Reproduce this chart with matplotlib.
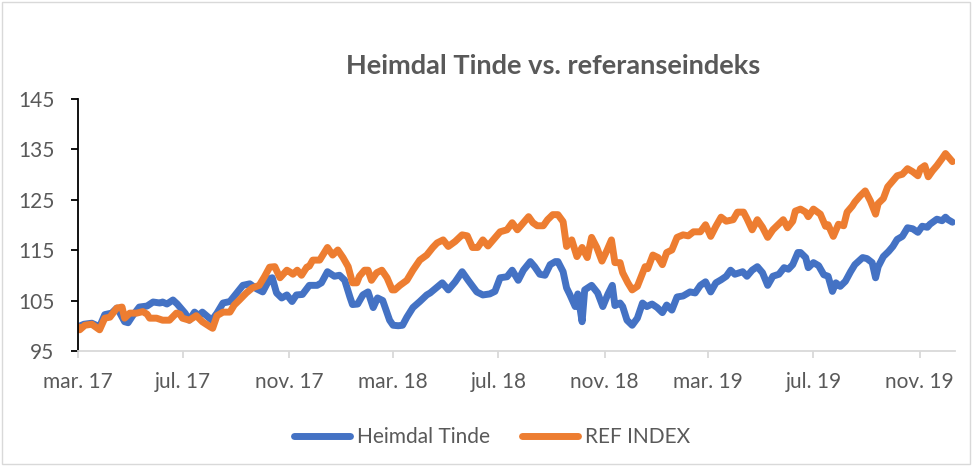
import matplotlib
matplotlib.use('Agg')
import matplotlib.pyplot as plt
from matplotlib.patches import Rectangle
import pandas as pd

# values (indexed, start = 100)
heimdal_dates = [
    '2017-03-01', '2017-03-08', '2017-03-17', '2017-03-26', '2017-04-01', '2017-04-09', '2017-04-15',
    '2017-04-18', '2017-04-24', '2017-04-28', '2017-05-03', '2017-05-11', '2017-05-20', '2017-05-27',
    '2017-06-04', '2017-06-07', '2017-06-12', '2017-06-19', '2017-06-24', '2017-07-03', '2017-07-08',
    '2017-07-14', '2017-07-19', '2017-07-23', '2017-08-03', '2017-08-09', '2017-08-16', '2017-08-24',
    '2017-09-01', '2017-09-08', '2017-09-16', '2017-09-24', '2017-10-01', '2017-10-09', '2017-10-12',
    '2017-10-17', '2017-10-23', '2017-10-29', '2017-11-04', '2017-11-09', '2017-11-16', '2017-11-24',
    '2017-12-03', '2017-12-08', '2017-12-15', '2017-12-23', '2017-12-29', '2018-01-04', '2018-01-10',
    '2018-01-13', '2018-01-19', '2018-01-25', '2018-01-31', '2018-02-06', '2018-02-11', '2018-02-17',
    '2018-02-25', '2018-03-01', '2018-03-07', '2018-03-12', '2018-03-17', '2018-03-24', '2018-04-01',
    '2018-04-09', '2018-04-13', '2018-04-20', '2018-04-27', '2018-05-04', '2018-05-12', '2018-05-20',
    '2018-05-27', '2018-06-06', '2018-06-13', '2018-06-21', '2018-06-27', '2018-07-03', '2018-07-11',
    '2018-07-17', '2018-07-24', '2018-07-30', '2018-08-07', '2018-08-12', '2018-08-18', '2018-08-24',
    '2018-08-30', '2018-09-05', '2018-09-08', '2018-09-14', '2018-09-18', '2018-09-22', '2018-09-28',
    '2018-10-01', '2018-10-06', '2018-10-09', '2018-10-17', '2018-10-24', '2018-10-30', '2018-11-05',
    '2018-11-10', '2018-11-13', '2018-11-19', '2018-11-22', '2018-11-27', '2018-12-03', '2018-12-09',
    '2018-12-15', '2018-12-20', '2018-12-26', '2019-01-01', '2019-01-07', '2019-01-12', '2019-01-18',
    '2019-01-24', '2019-01-31', '2019-02-08', '2019-02-14', '2019-02-20', '2019-02-26', '2019-03-04',
    '2019-03-10', '2019-03-16', '2019-03-22', '2019-03-27', '2019-04-01', '2019-04-10', '2019-04-15',
    '2019-04-21', '2019-04-27', '2019-05-03', '2019-05-09', '2019-05-15', '2019-05-22', '2019-05-28',
    '2019-06-02', '2019-06-07', '2019-06-13', '2019-06-16', '2019-06-22', '2019-06-25', '2019-07-01',
    '2019-07-07', '2019-07-13', '2019-07-18', '2019-07-23', '2019-07-27', '2019-08-01', '2019-08-07',
    '2019-08-13', '2019-08-18', '2019-08-27', '2019-09-01', '2019-09-07', '2019-09-11', '2019-09-14',
    '2019-09-20', '2019-09-26', '2019-10-01', '2019-10-06', '2019-10-12', '2019-10-18', '2019-10-24',
    '2019-10-30', '2019-11-04', '2019-11-10', '2019-11-13', '2019-11-21', '2019-11-27', '2019-12-01',
    '2019-12-04', '2019-12-09',
]
heimdal_values = [
    99.8, 100.3, 100.5, 99.8, 102.2, 102.5, 103.5,
    102.7, 100.8, 100.6, 101.9, 103.7, 103.9, 104.7,
    104.5, 104.7, 104.3, 105.1, 104.3, 102.5, 101.1,
    102.7, 102.0, 102.7, 101.1, 102.5, 104.5, 104.8,
    106.5, 108.0, 108.3, 107.3, 106.7, 109.3, 109.5,
    106.5, 105.5, 106.1, 104.8, 106.1, 106.2, 108.0,
    108.0, 108.5, 110.7, 109.8, 110.0, 109.0, 105.7,
    104.2, 104.3, 106.1, 106.7, 103.6, 105.5, 105.0,
    101.1, 100.1, 100.0, 100.1, 101.7, 103.6, 104.8,
    106.1, 106.5, 107.5, 108.5, 107.1, 108.7, 110.7,
    109.0, 106.7, 106.1, 106.3, 106.8, 109.5, 109.7,
    111.0, 109.0, 111.0, 112.7, 111.7, 110.2, 110.0,
    112.1, 112.7, 112.7, 110.7, 107.5, 106.1, 103.8,
    106.3, 100.8, 107.1, 108.0, 106.5, 103.8, 106.3,
    108.0, 104.0, 104.5, 103.8, 101.1, 100.1, 101.5,
    104.5, 103.8, 104.3, 103.6, 102.6, 104.1, 103.1,
    105.7, 105.9, 106.7, 106.5, 108.0, 108.7, 106.7,
    108.5, 109.1, 109.8, 111.0, 110.2, 110.7, 109.8,
    111.0, 111.7, 110.5, 108.0, 109.8, 110.2, 111.5,
    111.2, 112.1, 114.5, 114.5, 113.5, 111.5, 112.5,
    111.9, 110.1, 109.8, 106.8, 108.5, 107.8, 108.8,
    110.7, 112.1, 113.5, 113.3, 112.5, 109.5, 111.7,
    113.7, 114.7, 115.7, 117.1, 117.7, 119.4, 119.2,
    118.5, 119.7, 119.5, 120.1, 121.1, 120.8, 121.5,
    121.0, 120.5,
]

ref_dates = [
    '2017-03-01', '2017-03-03', '2017-03-09', '2017-03-17', '2017-03-26', '2017-04-01', '2017-04-07',
    '2017-04-15', '2017-04-21', '2017-04-24', '2017-04-30', '2017-05-08', '2017-05-15', '2017-05-20',
    '2017-05-23', '2017-05-31', '2017-06-07', '2017-06-15', '2017-06-23', '2017-06-27', '2017-06-30',
    '2017-07-08', '2017-07-16', '2017-07-23', '2017-08-01', '2017-08-04', '2017-08-09', '2017-08-16',
    '2017-08-24', '2017-08-29', '2017-09-04', '2017-09-12', '2017-09-19', '2017-09-27', '2017-10-03',
    '2017-10-09', '2017-10-15', '2017-10-21', '2017-10-29', '2017-11-01', '2017-11-05', '2017-11-10',
    '2017-11-15', '2017-11-21', '2017-11-24', '2017-11-28', '2017-12-06', '2017-12-15', '2017-12-21',
    '2017-12-27', '2018-01-02', '2018-01-08', '2018-01-13', '2018-01-18', '2018-01-21', '2018-01-27',
    '2018-01-31', '2018-02-04', '2018-02-10', '2018-02-16', '2018-02-22', '2018-02-28', '2018-03-03',
    '2018-03-09', '2018-03-17', '2018-03-24', '2018-04-01', '2018-04-09', '2018-04-16', '2018-04-21',
    '2018-04-28', '2018-05-04', '2018-05-12', '2018-05-20', '2018-05-26', '2018-06-01', '2018-06-07',
    '2018-06-13', '2018-06-19', '2018-06-25', '2018-07-03', '2018-07-11', '2018-07-17', '2018-07-23',
    '2018-07-30', '2018-08-05', '2018-08-10', '2018-08-15', '2018-08-22', '2018-08-27', '2018-09-02',
    '2018-09-08', '2018-09-14', '2018-09-18', '2018-09-24', '2018-09-30', '2018-10-06', '2018-10-12',
    '2018-10-17', '2018-10-23', '2018-10-29', '2018-11-04', '2018-11-09', '2018-11-13', '2018-11-19',
    '2018-11-22', '2018-11-28', '2018-12-03', '2018-12-09', '2018-12-12', '2018-12-18', '2018-12-21',
    '2018-12-27', '2019-01-02', '2019-01-07', '2019-01-12', '2019-01-18', '2019-01-24', '2019-01-31',
    '2019-02-06', '2019-02-12', '2019-02-20', '2019-02-26', '2019-03-04', '2019-03-10', '2019-03-16',
    '2019-03-22', '2019-03-30', '2019-04-04', '2019-04-11', '2019-04-15', '2019-04-21', '2019-04-27',
    '2019-05-03', '2019-05-09', '2019-05-15', '2019-05-21', '2019-05-27', '2019-06-01', '2019-06-07',
    '2019-06-10', '2019-06-16', '2019-06-22', '2019-06-25', '2019-07-01', '2019-07-09', '2019-07-15',
    '2019-07-18', '2019-07-24', '2019-07-30', '2019-08-05', '2019-08-09', '2019-08-15', '2019-08-18',
    '2019-08-24', '2019-08-30', '2019-09-05', '2019-09-11', '2019-09-14', '2019-09-20', '2019-09-25',
    '2019-09-30', '2019-10-06', '2019-10-12', '2019-10-18', '2019-10-24', '2019-10-30', '2019-11-02',
    '2019-11-07', '2019-11-11', '2019-11-16', '2019-11-21', '2019-11-27', '2019-12-01', '2019-12-04',
    '2019-12-09',
]
ref_values = [
    99.8, 99.2, 100.1, 100.3, 99.2, 101.5, 101.7,
    103.5, 103.7, 101.5, 102.5, 102.5, 102.8, 102.3,
    101.5, 101.5, 101.1, 101.1, 102.5, 102.3, 101.5,
    101.1, 102.0, 100.8, 99.8, 99.5, 102.0, 102.7,
    102.7, 104.1, 105.1, 106.5, 107.5, 108.0, 109.7,
    111.6, 111.7, 109.5, 111.0, 110.7, 110.2, 111.0,
    110.0, 111.6, 111.8, 113.0, 113.0, 115.5, 114.0,
    115.0, 113.5, 111.7, 108.5, 108.5, 109.8, 111.0,
    111.0, 109.0, 110.5, 111.0, 109.5, 107.1, 107.1,
    108.0, 109.0, 111.0, 113.0, 114.0, 115.5, 116.4,
    117.0, 115.7, 116.7, 118.0, 117.8, 115.5, 115.5,
    117.0, 115.8, 117.0, 118.6, 119.0, 120.4, 119.0,
    120.4, 121.6, 120.4, 119.8, 119.8, 121.0, 122.0,
    122.0, 120.6, 115.7, 117.0, 113.7, 115.5, 113.5,
    117.5, 115.5, 112.8, 115.0, 117.0, 112.5, 112.5,
    110.5, 108.5, 107.1, 107.8, 109.1, 111.7, 111.3,
    114.0, 113.5, 112.1, 114.5, 115.0, 117.5, 118.0,
    117.8, 118.6, 118.6, 120.0, 117.7, 119.7, 121.5,
    120.7, 121.0, 122.5, 122.5, 121.2, 119.0, 121.0,
    119.5, 117.5, 119.0, 120.0, 121.0, 119.4, 120.7,
    122.7, 123.1, 122.5, 121.6, 123.1, 122.1, 119.7,
    120.0, 117.7, 120.1, 119.8, 122.5, 123.7, 124.5,
    125.7, 126.7, 124.7, 122.1, 124.2, 125.2, 127.5,
    128.5, 129.7, 130.0, 131.1, 130.5, 129.7, 131.1,
    131.7, 129.5, 130.7, 131.7, 133.1, 134.1, 133.5,
    132.5,
]

tick_dates = ['2017-03-01', '2017-07-01', '2017-11-01', '2018-03-01', '2018-07-01',
              '2018-11-01', '2019-03-01', '2019-07-01', '2019-11-01']
tick_labels = ['mar. 17', 'jul. 17', 'nov. 17', 'mar. 18', 'jul. 18',
               'nov. 18', 'mar. 19', 'jul. 19', 'nov. 19']
y_ticks = [95, 105, 115, 125, 135, 145]

blue = '#4472C4'
orange = '#ED7D31'
grey_text = '#595959'

plt.rcParams['font.family'] = ['Lato', 'DejaVu Sans']

fig = plt.figure(figsize=(9.73, 4.66), dpi=100)
ax = fig.add_axes([78 / 973, 1 - 351 / 466, (955 - 78) / 973, (351 - 98.5) / 466])

ax.plot(pd.to_datetime(heimdal_dates), heimdal_values, color=blue, lw=5,
        solid_capstyle='round', solid_joinstyle='round', label='Heimdal Tinde')
ax.plot(pd.to_datetime(ref_dates), ref_values, color=orange, lw=5,
        solid_capstyle='round', solid_joinstyle='round', label='REF INDEX')

ax.set_xlim(pd.Timestamp('2017-03-01'), pd.Timestamp('2019-12-12'))
ax.set_ylim(95, 145)
ax.set_yticks(y_ticks)
ax.set_xticks(pd.to_datetime(tick_dates))
ax.set_xticklabels(tick_labels)

for s in ['top', 'right']:
    ax.spines[s].set_visible(False)
ax.spines['left'].set_color('black')
ax.spines['left'].set_linewidth(1.3)
ax.spines['bottom'].set_color('#D9D9D9')
ax.spines['bottom'].set_linewidth(1.3)
ax.tick_params(axis='y', direction='out', length=5, width=1.3, color='black',
               labelsize=15, labelcolor=grey_text, pad=12)
ax.tick_params(axis='x', direction='out', length=5, width=1.3, color='#D9D9D9',
               labelsize=15, labelcolor=grey_text, pad=10)

fig.text(553 / 973, 1 - 66 / 466, 'Heimdal Tinde vs. referanseindeks', ha='center', va='center',
         fontsize=19.5, fontweight='bold', color=grey_text)

fig.legend(loc='center', bbox_to_anchor=(492 / 973, 1 - 437 / 466), ncol=2, frameon=False,
           fontsize=15, handlelength=2.7, columnspacing=1.5, handletextpad=0.35,
           labelcolor=grey_text)

fig.patches.append(Rectangle((2 / 973, 2 / 466), 968 / 973, 462 / 466, transform=fig.transFigure,
                             fill=False, edgecolor='#D9D9D9', lw=1))

fig.savefig('out.png', dpi=100)
